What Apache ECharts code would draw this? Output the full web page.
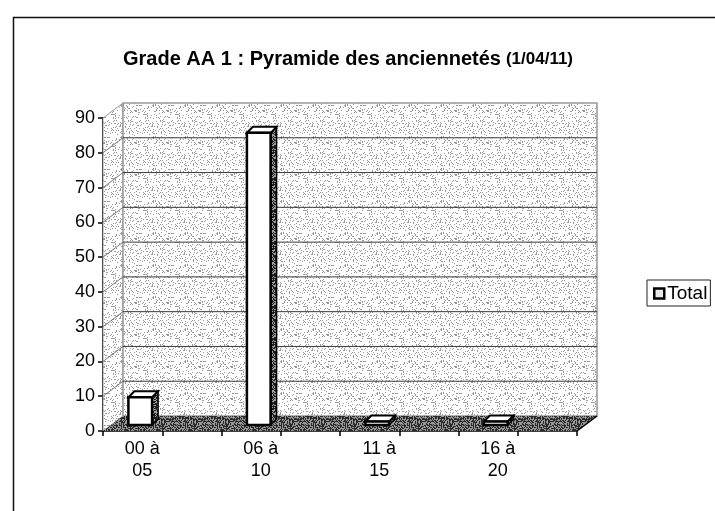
<!DOCTYPE html>
<html>
<head>
<meta charset="utf-8">
<script src="https://cdn.jsdelivr.net/npm/echarts@6/dist/echarts.min.js"></script>
<style>
  html, body { margin: 0; padding: 0; background: #fff; }
  #chart { width: 715px; height: 511px; }
</style>
</head>
<body>
<div id="chart"></div>
<script>
// données
const categories = ['00 à\n05', '06 à\n10', '11 à\n15', '16 à\n20'];
const totals = [8, 84, 1, 1];
const yMax = 90;
const yStep = 10;
const halfTicks = ['', '', '', '', '', '', '', ''];

// profondeur 3D
const DX = 20, DY = -15;
const BAR_DX = 6, BAR_DY = -6;
const BAR_SHIFT = -22, BAR_LIFT = -6;

// petites textures pointillées (style Excel imprimé)
function stipple(bg, fg, density) {
  const n = 32;
  const c = document.createElement('canvas');
  c.width = n; c.height = n;
  const ctx = c.getContext('2d');
  ctx.fillStyle = bg;
  ctx.fillRect(0, 0, n, n);
  ctx.fillStyle = fg;
  for (let i = 0; i < n; i++) {
    for (let j = 0; j < n; j++) {
      let hsh = (i * 374761393 + j * 668265263) >>> 0;
      hsh = ((hsh ^ (hsh >>> 13)) * 1274126177) >>> 0;
      if ((hsh % 1000) < density * 1000) ctx.fillRect(i, j, 1, 1);
    }
  }
  return { image: c, repeat: 'repeat' };
}
const wallFill = stipple('#ffffff', '#9a9a9a', 0.13);
const floorFill = stipple('#969696', '#2a2a2a', 0.5);
const sideFill = stipple('#a0a0a0', '#1e1e1e', 0.6);

function renderBox(params, api) {
  const cs = params.coordSys;
  const x = cs.x, y = cs.y, w = cs.width, h = cs.height;
  const kids = [
    { type: 'polygon', shape: { points: [[x, y + h], [x, y], [x + DX, y + DY], [x + DX, y + h + DY]] },
      style: { fill: wallFill, stroke: '#999', lineWidth: 1 } },
    { type: 'rect', shape: { x: x + DX, y: y + DY, width: w, height: h },
      style: { fill: wallFill, stroke: '#999', lineWidth: 1.5 } },
    { type: 'polygon', shape: { points: [[x, y + h], [x + w, y + h], [x + w + DX, y + h + DY], [x + DX, y + h + DY]] },
      style: { fill: floorFill, stroke: null } },
    { type: 'line', shape: { x1: x + w, y1: y + h, x2: x + w + DX, y2: y + h + DY },
      style: { stroke: '#000', lineWidth: 1.5 } }
  ];
  for (let v = yStep; v < yMax; v += yStep) {
    const py = api.coord([0, v])[1];
    kids.push({ type: 'line', shape: { x1: x + DX, y1: py + DY, x2: x + w + DX, y2: py + DY },
      style: { stroke: '#3a3a3a', lineWidth: 1 } });
    kids.push({ type: 'line', shape: { x1: x, y1: py, x2: x + DX, y2: py + DY },
      style: { stroke: '#777', lineWidth: 1 } });
  }
  return { type: 'group', children: kids };
}

function renderBar(params, api) {
  const top = api.coord([api.value(0), api.value(1)]);
  const base = api.coord([api.value(0), 0]);
  const bw = api.size([1, 0])[0] * 0.2;
  const x0 = top[0] + BAR_SHIFT - bw / 2;
  const x1 = x0 + bw;
  const yt = top[1] + BAR_LIFT;
  const yb = base[1] + BAR_LIFT;
  return {
    type: 'group',
    children: [
      { type: 'polygon', shape: { points: [[x1, yt], [x1 + BAR_DX, yt + BAR_DY], [x1 + BAR_DX, yb + BAR_DY], [x1, yb]] },
        style: { fill: sideFill, stroke: '#000', lineWidth: 1.5 } },
      { type: 'polygon', shape: { points: [[x0, yt], [x1, yt], [x1 + BAR_DX, yt + BAR_DY], [x0 + BAR_DX, yt + BAR_DY]] },
        style: { fill: '#fff', stroke: '#000', lineWidth: 2 } },
      { type: 'rect', shape: { x: x0, y: yt, width: bw, height: yb - yt },
        style: { fill: '#fff', stroke: '#000', lineWidth: 2.5 } }
    ]
  };
}

let chart = echarts.init(document.getElementById('chart'), null, { renderer: 'canvas' });

let option = {
  animation: false,
  backgroundColor: '#fff',
  textStyle: { fontFamily: 'Liberation Sans, Arial, sans-serif', color: '#000' },
  graphic: [
    { type: 'rect', left: 11, top: 15, shape: { width: 720, height: 520 },
      style: { fill: null, stroke: '#111', lineWidth: 1.5 }, z: 100, silent: true }
  ],
  title: {
    text: '{a|Grade AA 1 : Pyramide des anciennetés} {b|(1/04/11)}',
    left: 343, top: 44, textAlign: 'center',
    textStyle: {
      rich: {
        a: { fontSize: 20, fontWeight: 'bold', fontFamily: 'Liberation Sans, Arial', color: '#000' },
        b: { fontSize: 17, fontWeight: 'bold', fontFamily: 'Liberation Sans, Arial', color: '#000' }
      }
    }
  },
  legend: {
    data: ['Total'],
    left: 647, top: 280,
    orient: 'vertical',
    padding: [4, 3, 3, 6],
    borderColor: '#222', borderWidth: 1,
    icon: 'rect', itemWidth: 10, itemHeight: 10, itemGap: 4,
    itemStyle: { color: '#e8e8e8', borderColor: '#000', borderWidth: 2.5 },
    textStyle: { fontSize: 19, color: '#000', fontFamily: 'Liberation Sans, Arial', padding: [0, 0, 0, -2] }
  },
  grid: { left: 103, right: 138, top: 118, bottom: 80 },
  xAxis: [
    {
      type: 'category', data: categories, position: 'bottom',
      axisLine: { show: true, lineStyle: { color: '#000', width: 1.5 } },
      axisTick: { show: false },
      axisLabel: { fontSize: 18, color: '#000', lineHeight: 22, margin: 7, padding: [0, 40, 0, 0] }
    },
    {
      type: 'category', data: halfTicks, position: 'bottom',
      axisLine: { show: false },
      axisTick: { show: true, length: 5, interval: 0, lineStyle: { color: '#000', width: 1.5 } },
      axisLabel: { show: false }
    }
  ],
  yAxis: {
    type: 'value', min: 0, max: yMax, interval: yStep,
    axisLine: { show: true, lineStyle: { color: '#000', width: 2 } },
    axisTick: { show: true, length: 5, lineStyle: { color: '#000', width: 1.5 } },
    axisLabel: { fontSize: 18, color: '#000', margin: 8 },
    splitLine: { show: false }
  },
  series: [
    {
      name: 'box', type: 'custom', renderItem: renderBox, data: [[0, 0]],
      silent: true, z: 1, tooltip: { show: false }
    },
    {
      name: 'Total', type: 'custom', renderItem: renderBar,
      data: totals.map((v, i) => [i, v]),
      itemStyle: { color: '#fff', borderColor: '#000' },
      z: 5
    }
  ]
};

chart.setOption(option);
</script>
</body>
</html>
